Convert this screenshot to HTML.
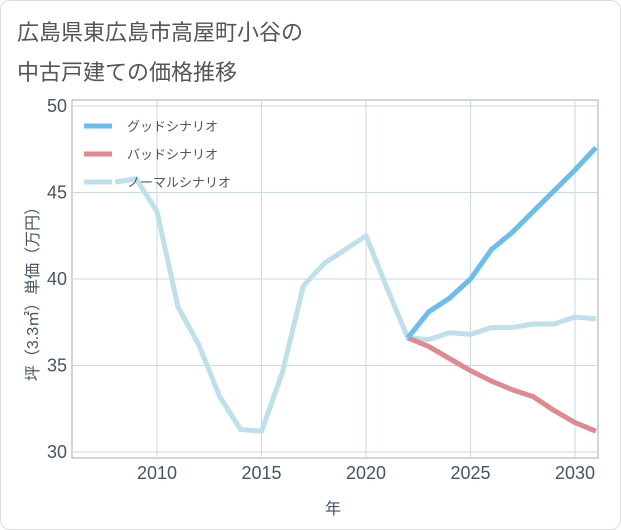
<!DOCTYPE html>
<html><head><meta charset="utf-8"><style>
body{margin:0;background:#fff;}
#wrap{width:619px;height:528px;border:1px solid #ddd;border-radius:10px;position:relative;overflow:hidden;font-family:"Liberation Sans","Noto Sans CJK JP",sans-serif;}
.title{position:absolute;left:16px;font-size:22px;color:#555;}
</style></head><body>
<div id="wrap">
<div class="title" style="top:14px">広島県東広島市高屋町小谷の</div>
<div class="title" style="top:54px">中古戸建ての価格推移</div>
<svg id="chart" width="621" height="530" style="position:absolute;left:-1px;top:-1px"></svg>
</div>
<script>
const years=[2008,2009,2010,2011,2012,2013,2014,2015,2016,2017,2018,2019,2020,2021,2022,2023,2024,2025,2026,2027,2028,2029,2030,2031];
const normalVals=[45.6,45.8,43.9,38.4,36.2,33.2,31.3,31.2,34.6,39.6,40.9,41.7,42.5,39.5,36.6,36.5,36.9,36.8,37.2,37.2,37.4,37.4,37.8,37.7];
const futureYears=[2022,2023,2024,2025,2026,2027,2028,2029,2030,2031];
const goodVals=[36.6,38.1,38.9,40.0,41.7,42.7,43.9,45.1,46.3,47.6];
const badVals=[36.6,36.1,35.4,34.7,34.1,33.6,33.2,32.4,31.7,31.2];
const xTicks=[2010,2015,2020,2025,2030];
const yTicks=[30,35,40,45,50];
const NS='http://www.w3.org/2000/svg';
const svg=document.getElementById('chart');
const L=72,R=598,T=100,B=458;
const x=y=>157+(y-2010)*20.9;
const yS=v=>106+(50-v)*17.3;
function mk(tag,attrs,parent){const e=document.createElementNS(NS,tag);for(const k in attrs)e.setAttribute(k,attrs[k]);(parent||svg).appendChild(e);return e;}
const frame=mk('rect',{x:L,y:T,width:R-L,height:B-T,fill:'none',stroke:'#aaa','stroke-width':1});


xTicks.forEach(t=>{
 const g=mk('line',{x1:x(t),x2:x(t),y1:T,y2:B,stroke:'#c9d9e6','stroke-width':1});
 
 
 const tx=mk('text',{x:x(t),y:479,'text-anchor':'middle','font-size':18,fill:'#456'});
 tx.textContent=t;
 
 
});
yTicks.forEach(t=>{
 const g=mk('line',{x1:L,x2:R,y1:yS(t),y2:yS(t),stroke:'#c9d9e6','stroke-width':1});
 
 
 const tx=mk('text',{x:67,y:yS(t)+6,'text-anchor':'end','font-size':18,fill:'#456'});
 tx.textContent=t;
 
 
});
function line(xs,vs,color,name){
 const p=mk('polyline',{points:xs.map((yr,i)=>x(yr)+','+yS(vs[i])).join(' '),fill:'none',stroke:color,'stroke-width':5,'stroke-linejoin':'round'});
 
 
}
const clip=mk('clipPath',{id:'c'});mk('rect',{x:L,y:T,width:R-L,height:B-T},clip);
line(years,normalVals,'#bde0ec','normal-scenario-line');
line(futureYears,badVals,'#e08a90','bad-scenario-line');
line(futureYears,goodVals,'#6bbcf0','good-scenario-line');
svg.querySelectorAll('polyline').forEach(p=>p.setAttribute('clip-path','url(#c)'));
const leg=[['グッドシナリオ','#6bbcf0'],['バッドシナリオ','#e08a90'],['ノーマルシナリオ','#bde0ec']];
leg.forEach((l,i)=>{
 const yy=126+i*28;
 const s=mk('line',{x1:84,x2:112,y1:yy,y2:yy,stroke:l[1],'stroke-width':5});
 
 
 const t=mk('text',{x:127,y:yy+5,'font-size':13,fill:'#555'});
 t.textContent=l[0];
 
 
});
const xt=mk('text',{x:333,y:514,'text-anchor':'middle','font-size':16,fill:'#456'});
xt.textContent='年';


const yt=mk('text',{x:0,y:0,'text-anchor':'middle','font-size':16,fill:'#456',transform:'translate(38,290) rotate(-90)'});
yt.textContent='坪（3.3㎡）単価（万円）';


</script>
</body></html>
